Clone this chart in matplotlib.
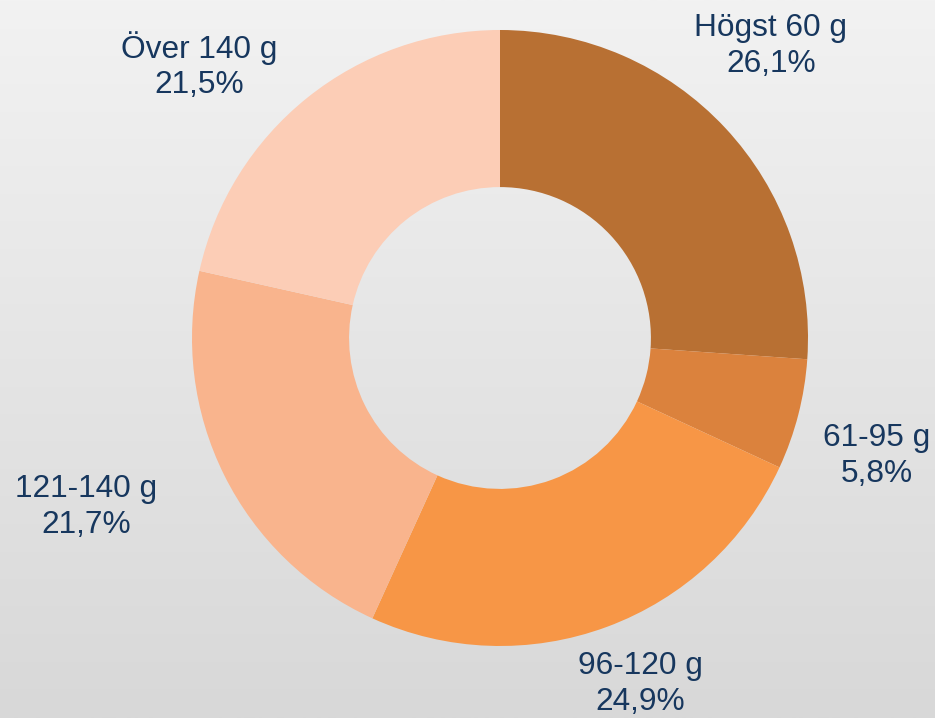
import matplotlib
matplotlib.use("Agg")
import matplotlib.pyplot as plt
import numpy as np

categories = ["Högst 60 g", "61-95 g", "96-120 g", "121-140 g", "Över 140 g"]
values = [26.1, 5.8, 24.9, 21.7, 21.5]
pct_labels = ["26,1%", "5,8%", "24,9%", "21,7%", "21,5%"]
colors = ["#B87033", "#DB823D", "#F79646", "#F9B48D", "#FCCDB6"]
# label positions in pixel coordinates (x, y from top)
label_pos = [(771, 46), (877, 456), (640, 684), (86, 507), (199, 66)]

W, H = 935, 718
fig = plt.figure(figsize=(W / 100, H / 100), dpi=100)
ax = fig.add_axes([0, 0, 1, 1])
ax.set_xlim(0, W)
ax.set_ylim(0, H)
ax.axis("off")

# background gradient
grad = np.linspace(0, 1, 256).reshape(-1, 1)
top = np.array([0xF2, 0xF2, 0xF2]) / 255
bot = np.array([0xD8, 0xD8, 0xD8]) / 255
img = top + (bot - top) * grad[:, :, None]
ax.imshow(img, extent=[0, W, 0, H], aspect="auto", zorder=0, origin="upper")

cx, cy, R = 500, H - 338, 308
ax.pie(values, colors=colors, startangle=90, counterclock=False,
       center=(cx, cy), radius=R, frame=True,
       wedgeprops=dict(width=R * 0.51, edgecolor="none", linewidth=0))
ax.set_xlim(0, W)
ax.set_ylim(0, H)
ax.set_aspect("equal")
ax.axis("off")

for cat, pct, (x, y) in zip(categories, pct_labels, label_pos):
    ax.text(x, H - y, f"{cat}\n{pct}", ha="center", va="center",
            fontsize=22.8, color="#17375E", family="Liberation Sans",
            linespacing=1.22, zorder=5)

fig.savefig("out.png", dpi=100)
